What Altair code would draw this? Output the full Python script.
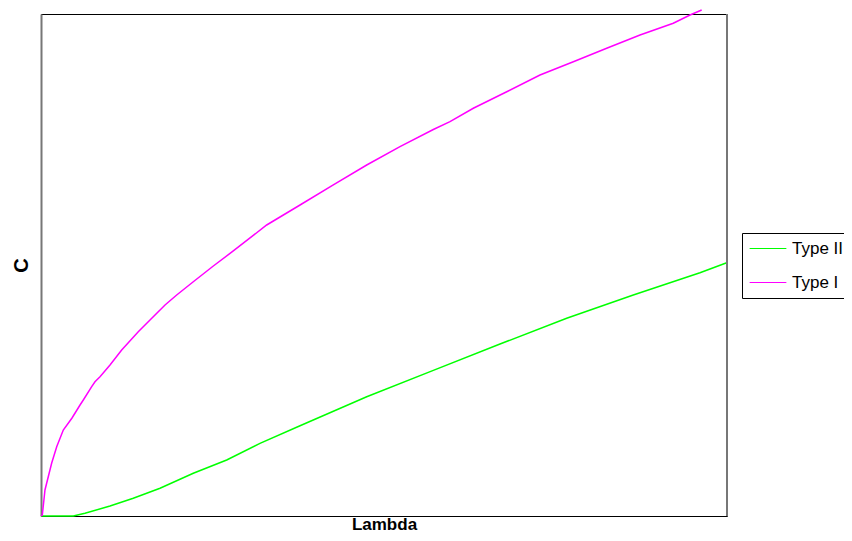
import altair as alt
import pandas as pd

# Lambda (0-10 across the plot) and C (0-10 up the plot)
type1_lambda = [0.0, 0.019, 0.058, 0.156, 0.229, 0.325, 0.452, 0.569, 0.617, 0.739, 0.787, 0.860, 1.006, 1.176,
                1.418, 1.589, 1.808, 1.978, 2.220, 2.512, 2.803, 3.290, 3.776, 4.261, 4.748, 5.233, 5.719, 5.962,
                6.302, 6.789, 7.274, 7.760, 8.246, 8.732, 9.217, 9.461, 9.631]
type1_c = [0.0, 0.020, 0.518, 1.056, 1.380, 1.713, 1.952, 2.211, 2.311, 2.576, 2.675, 2.775, 3.008, 3.307,
           3.671, 3.904, 4.203, 4.402, 4.667, 4.980, 5.280, 5.797, 6.195, 6.594, 6.992, 7.357, 7.700, 7.855,
           8.122, 8.452, 8.785, 9.050, 9.317, 9.582, 9.815, 9.980, 10.080]

type2_lambda = [0.0, 0.471, 0.641, 1.006, 1.345, 1.735, 2.220, 2.707, 3.192, 3.776, 4.748, 5.719, 6.691,
                7.663, 8.634, 9.606, 9.996]
type2_c = [0.0, 0.0, 0.054, 0.199, 0.353, 0.552, 0.851, 1.116, 1.448, 1.799, 2.376, 2.900, 3.426,
           3.938, 4.402, 4.847, 5.046]

series_names = ["Type II", "Type I"]
series_colors = ["#00FF00", "#FF00FF"]

rows = []
for lam, c in zip(type2_lambda, type2_c):
    rows.append({"Lambda": lam, "C": c, "series": "Type II", "order": len(rows)})
for lam, c in zip(type1_lambda, type1_c):
    rows.append({"Lambda": lam, "C": c, "series": "Type I", "order": len(rows)})
df = pd.DataFrame(rows)

font = "Liberation Sans"
xscale = alt.Scale(domain=[0, 10], nice=False, zero=False)
yscale = alt.Scale(domain=[0, 10], nice=False, zero=False)

lines = alt.Chart(df).mark_line(strokeWidth=1.5, clip=False).encode(
    x=alt.X("Lambda:Q", scale=xscale,
            axis=alt.Axis(title="Lambda", labels=False, ticks=False, grid=False, domain=False,
                          titleFont=font, titleFontSize=17, titleFontWeight="bold",
                          titleBaseline="alphabetic", titlePadding=13.5, titleColor="black")),
    y=alt.Y("C:Q", scale=yscale,
            axis=alt.Axis(title="C", labels=False, ticks=False, grid=False,
                          domain=True, domainColor="#777777", domainWidth=2,
                          titleFont=font, titleFontSize=20, titleFontWeight="bold",
                          titlePadding=10, titleColor="black")),
    color=alt.Color("series:N", scale=alt.Scale(domain=series_names, range=series_colors),
                    legend=alt.Legend(title=None, orient="none", legendX=701, legendY=219,
                                      strokeColor="black", padding=7, fillColor="white",
                                      symbolType="stroke", symbolSize=1350, symbolStrokeWidth=1,
                                      labelFont=font, labelFontSize=17, labelColor="black",
                                      labelOffset=5, rowPadding=16, clipHeight=17)),
    order="order:Q",
)

right_edge = alt.Chart(pd.DataFrame({"edge": [10]})).mark_rule(color="#777777", strokeWidth=2).encode(
    x=alt.X("edge:Q", scale=xscale)
)

chart = alt.layer(lines, right_edge).properties(
    width=686, height=502,
    autosize=alt.AutoSizeParams(type="none"),
    padding={"left": 33, "top": 6, "right": 117, "bottom": 17},
).configure_view(stroke="black", strokeWidth=1)

chart.save("out.html", embed_options={"renderer": "svg", "actions": False})
